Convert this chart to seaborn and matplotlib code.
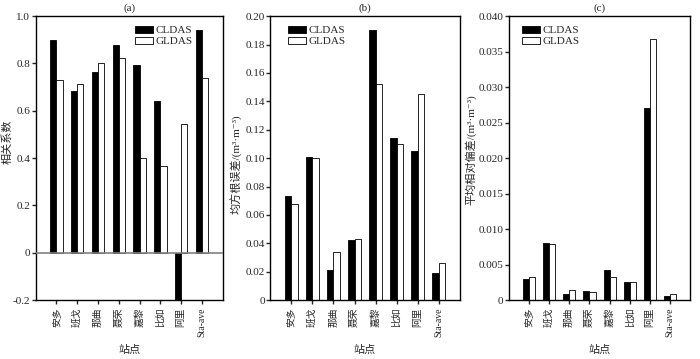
import pandas as pd
import matplotlib
matplotlib.use("Agg")
import matplotlib.pyplot as plt
import seaborn as sns
from matplotlib.ticker import FixedLocator, FuncFormatter

stations = ["安多", "班戈", "那曲", "聂荣", "嘉黎", "比如", "阿里", "Sta-ave"]
models = ["CLDAS", "GLDAS"]

# (a) correlation coefficient
r_cldas = [0.90, 0.685, 0.765, 0.88, 0.795, 0.64, -0.20, 0.94]
r_gldas = [0.73, 0.715, 0.80, 0.825, 0.40, 0.365, 0.545, 0.74]
# (b) RMSE
rmse_cldas = [0.073, 0.101, 0.021, 0.042, 0.190, 0.114, 0.105, 0.019]
rmse_gldas = [0.068, 0.100, 0.034, 0.043, 0.152, 0.110, 0.145, 0.026]
# (c) mean relative bias
bias_cldas = [0.0030, 0.0080, 0.0008, 0.0013, 0.0043, 0.0026, 0.0270, 0.0006]
bias_gldas = [0.0032, 0.0079, 0.0014, 0.0012, 0.0033, 0.0025, 0.0368, 0.0008]

sns.set_style("ticks")
plt.rcParams["font.family"] = ["Liberation Serif", "Noto Sans CJK SC", "DejaVu Sans"]
plt.rcParams["axes.unicode_minus"] = False
plt.rcParams["font.size"] = 8


def make_df(a, b):
    return pd.DataFrame({
        "station": stations * 2,
        "model": ["CLDAS"] * len(stations) + ["GLDAS"] * len(stations),
        "value": list(a) + list(b),
    })


def fmt(decimals):
    def f(v, pos):
        if abs(v) < 1e-12:
            return "0"
        return f"{v:.{decimals}f}"
    return FuncFormatter(f)


fig = plt.figure(figsize=(7, 3.59), dpi=100)
ax_a = fig.add_axes([0.051, 0.164, 0.267, 0.791])
ax_b = fig.add_axes([0.386, 0.164, 0.271, 0.791])
ax_c = fig.add_axes([0.727, 0.164, 0.259, 0.791])

panels = [
    (ax_a, r_cldas, r_gldas, "(a)", "相关系数", (-0.2, 1.0),
     [-0.2, 0, 0.2, 0.4, 0.6, 0.8, 1.0], 1, (0.53, 0.965), (-0.123, 0.556)),
    (ax_b, rmse_cldas, rmse_gldas, "(b)", "均方根误差/(m³·m⁻³)", (0, 0.20),
     [0, 0.02, 0.04, 0.06, 0.08, 0.10, 0.12, 0.14, 0.16, 0.18, 0.20], 2,
     (0.095, 0.965), (-0.147, 0.48)),
    (ax_c, bias_cldas, bias_gldas, "(c)", "平均相对偏差/(m³·m⁻³)", (0, 0.040),
     [0, 0.005, 0.010, 0.015, 0.020, 0.025, 0.030, 0.035, 0.040], 3,
     (0.072, 0.965), (-0.177, 0.53)),
]

for ax, a, b, title, ylabel, ylim, ticks, dec, anchor, lab_xy in panels:
    df = make_df(a, b)
    sns.barplot(data=df, x="station", y="value", hue="model", hue_order=models,
                palette=["black", "white"], edgecolor="black", linewidth=0.6,
                width=0.6, ax=ax)
    ax.set_xlim(-1, 8)
    ax.set_ylim(*ylim)
    ax.yaxis.set_major_locator(FixedLocator(ticks))
    ax.yaxis.set_major_formatter(fmt(dec))
    ax.set_title(title, fontsize=8, pad=4)
    ax.set_xlabel("站点", fontsize=8, labelpad=6)
    ax.set_ylabel(ylabel, fontsize=8)
    ax.yaxis.set_label_coords(*lab_xy)
    ax.tick_params(axis="x", rotation=90, length=3, width=1, pad=2, labelsize=7)
    ax.tick_params(axis="y", length=3, width=1, pad=1, labelsize=8)
    for s in ax.spines.values():
        s.set_linewidth(1.0)
        s.set_color("black")
    if ylim[0] < 0:
        ax.axhline(0, color="gray", linewidth=1.2, zorder=3)
    ax.legend(loc="upper left", bbox_to_anchor=anchor, frameon=False, fontsize=8,
              handlelength=1.6, handleheight=0.55, handletextpad=0.25,
              labelspacing=0.15, borderpad=0, borderaxespad=0)

fig.savefig("out.png", dpi=100)
